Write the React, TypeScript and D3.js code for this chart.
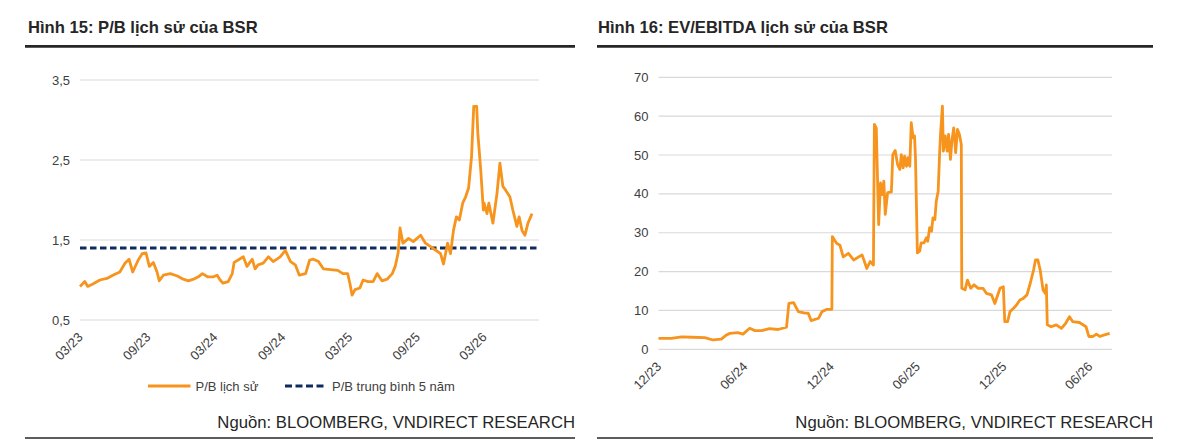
import React from "react";
import * as d3 from "d3";

// ---------- DATA ----------
const pbDates = [
  "2023-03-01","2023-03-14","2023-03-22","2023-04-05","2023-04-24","2023-05-13","2023-05-29","2023-06-17",
  "2023-07-01","2023-07-12","2023-07-22","2023-08-06","2023-08-17","2023-08-27","2023-09-05","2023-09-16",
  "2023-09-26","2023-10-02","2023-10-13","2023-11-01","2023-11-20","2023-12-06","2023-12-20","2024-01-03",
  "2024-01-16","2024-01-27","2024-02-10","2024-02-26","2024-03-07","2024-03-15","2024-03-23","2024-04-06",
  "2024-04-17","2024-04-22","2024-05-03","2024-05-17","2024-05-27","2024-06-10","2024-06-18","2024-06-26",
  "2024-07-10","2024-07-24","2024-08-06","2024-08-25","2024-09-08","2024-09-22","2024-10-05","2024-10-16",
  "2024-11-02","2024-11-13","2024-11-23","2024-12-07","2024-12-20","2025-01-09","2025-01-28","2025-02-11",
  "2025-02-24","2025-03-02","2025-03-08","2025-03-16","2025-03-29","2025-04-07","2025-04-20","2025-05-04",
  "2025-05-15","2025-05-28","2025-06-11","2025-06-25","2025-07-03","2025-07-11","2025-07-16","2025-07-24",
  "2025-08-08","2025-08-21","2025-09-10","2025-09-23","2025-10-06","2025-10-20","2025-11-03","2025-11-11",
  "2025-11-22","2025-11-30","2025-12-08","2025-12-16","2025-12-24","2026-01-02","2026-01-10","2026-01-18",
  "2026-01-26","2026-02-01","2026-02-09","2026-02-12","2026-02-20","2026-02-27","2026-03-01","2026-03-09",
  "2026-03-14","2026-03-25","2026-04-05","2026-04-13","2026-04-21","2026-04-29","2026-05-10","2026-05-18",
  "2026-05-29","2026-06-04","2026-06-12","2026-06-20","2026-06-28","2026-07-09",
];
const pbValues = [
  0.92,0.98,0.92,0.95,1.00,1.02,1.06,1.10,
  1.21,1.26,1.10,1.25,1.33,1.34,1.17,1.22,
  1.10,0.99,1.06,1.08,1.05,1.01,0.99,1.01,
  1.04,1.08,1.04,1.04,1.06,1.00,0.96,0.98,
  1.08,1.22,1.25,1.29,1.17,1.26,1.14,1.19,
  1.21,1.29,1.23,1.29,1.37,1.23,1.19,1.06,
  1.08,1.25,1.26,1.23,1.14,1.13,1.12,1.08,
  1.08,0.96,0.81,0.88,0.90,1.00,0.98,0.98,
  1.08,0.99,1.01,1.08,1.17,1.34,1.65,1.46,
  1.52,1.48,1.56,1.46,1.42,1.375,1.33,1.20,
  1.46,1.33,1.62,1.79,1.75,1.96,2.04,2.15,
  2.54,3.17,3.17,2.84,2.375,1.875,1.96,1.83,
  1.96,1.71,2.08,2.46,2.17,2.12,2.04,1.875,
  1.67,1.79,1.62,1.56,1.71,1.83,
];
const pbAverage5y = 1.4;
const pbYTicks = [0.5, 1.5, 2.5, 3.5];
const pbXTicks = ["2023-03-01","2023-09-01","2024-03-01","2024-09-01","2025-03-01","2025-09-01","2026-03-01"];
const pbDomain = ["2023-03-01", "2026-07-28"];

const evDates = [
  "2023-12-01","2023-12-28","2024-01-19","2024-02-09","2024-03-08","2024-03-25","2024-04-12","2024-04-23",
  "2024-04-30","2024-05-17","2024-05-28","2024-06-11","2024-06-22","2024-07-06","2024-07-23","2024-08-10",
  "2024-08-28","2024-09-02","2024-09-12","2024-09-22","2024-10-06","2024-10-13","2024-10-19","2024-11-04",
  "2024-11-11","2024-11-22","2024-12-02","2024-12-03","2024-12-12","2024-12-19","2024-12-26","2025-01-06",
  "2025-01-17","2025-02-04","2025-02-14","2025-02-21","2025-02-28",
  "2025-03-02","2025-03-06","2025-03-11","2025-03-15","2025-03-19","2025-03-22","2025-03-25","2025-03-30",
  "2025-04-07","2025-04-10","2025-04-15","2025-04-20","2025-04-25","2025-04-28","2025-05-02","2025-05-05",
  "2025-05-09","2025-05-12","2025-05-16","2025-05-19","2025-05-23","2025-05-26","2025-05-28","2025-06-01",
  "2025-06-06","2025-06-09","2025-06-15","2025-06-20","2025-06-23","2025-06-27","2025-07-01","2025-07-04",
  "2025-07-08","2025-07-11","2025-07-15","2025-07-18","2025-07-20","2025-07-24","2025-07-26","2025-07-30",
  "2025-08-03","2025-08-06","2025-08-10","2025-08-13","2025-08-17","2025-08-21","2025-08-25","2025-08-29",
  "2025-09-02",
  "2025-09-03","2025-09-10","2025-09-15","2025-09-22","2025-09-29","2025-10-08",
  "2025-10-18","2025-10-25","2025-11-05","2025-11-12","2025-11-17","2025-11-23","2025-11-30","2025-12-03",
  "2025-12-09","2025-12-14","2025-12-21","2025-12-28","2026-01-04","2026-01-11","2026-01-19","2026-01-26",
  "2026-02-02","2026-02-06","2026-02-11","2026-02-16","2026-02-22","2026-02-27","2026-03-01","2026-03-03",
  "2026-03-11","2026-03-22","2026-04-02","2026-04-11","2026-04-19","2026-04-26","2026-05-10","2026-05-24",
  "2026-05-30","2026-06-08","2026-06-15","2026-06-22","2026-07-02","2026-07-13",
];
const evValues = [
  2.8,2.8,3.2,3.1,3.0,2.4,2.6,3.7,
  4.1,4.3,3.9,5.4,4.8,4.8,5.3,5.1,
  5.7,11.8,12.0,9.7,9.3,9.3,7.4,8.0,
  9.7,10.3,10.3,29.0,27.3,26.8,23.8,24.7,
  23.0,24.3,20.8,22.6,21.7,
  57.9,57.0,32.1,42.8,39.8,43.3,34.7,40.3,
  40.5,50.1,51.2,47.6,46.3,50.1,46.7,49.7,
  47.1,49.3,47.1,58.3,54.4,54.9,49.3,24.8,
  25.3,27.4,27.4,28.7,27.8,31.3,30.4,33.8,
  33.4,38.1,40.7,50.1,55.3,62.6,51.0,54.9,
  51.0,55.3,48.9,53.6,57.0,50.6,56.6,55.3,
  52.7,
  15.7,15.3,17.8,15.7,16.6,15.7,
  15.7,14.4,14.0,11.8,13.6,15.7,16.1,7.1,
  7.1,9.7,10.5,11.4,12.7,13.1,14.0,17.0,
  20.4,23.0,23.0,20.4,15.3,14.4,16.6,6.3,
  5.8,6.3,5.4,6.7,8.4,7.1,6.9,5.8,
  3.3,3.3,3.9,3.3,3.7,4.1,
];
const evYTicks = [0, 10, 20, 30, 40, 50, 60, 70];
const evXTicks = ["2023-12-01","2024-06-01","2024-12-01","2025-06-01","2025-12-01","2026-06-01"];
const evDomain = ["2023-12-01", "2026-07-18"];

const titleLeft = "Hình 15: P/B lịch sử của BSR";
const titleRight = "Hình 16: EV/EBITDA lịch sử của BSR";
const sourceText = "Nguồn: BLOOMBERG, VNDIRECT RESEARCH";
const legendLabels = ["P/B lịch sử", "P/B trung bình 5 năm"];

// ---------- STYLE ----------
const FONT = "'Liberation Sans', Arial, Helvetica, sans-serif";
const ORANGE = "#F7941D";
const NAVY = "#0F2A5C";
const GRID = "#D9D9D9";
const TEXT = "#404040";
const DARK = "#262626";

const parse = d3.utcParse("%Y-%m-%d");
const fmt = d3.utcFormat("%m/%y");

type PanelProps = {
  x0: number; x1: number; titleX: number;
  plotLeft: number; plotRight: number; plotTop: number; plotBottom: number;
  yDomain: [number, number];
  yTicks: number[];
  yFormat: (v: number) => string;
  dates: string[]; values: number[];
  xTicks: string[]; domain: string[];
  title: string;
  avg?: number;
  legend?: boolean;
};

function Panel(p: PanelProps) {
  const x = d3.scaleUtc()
    .domain([parse(p.domain[0])!, parse(p.domain[1])!])
    .range([p.plotLeft, p.plotRight]);
  const y = d3.scaleLinear().domain(p.yDomain).range([p.plotBottom, p.plotTop]);
  const pts = p.dates.map((d, i) => [parse(d)!, p.values[i]] as [Date, number]);
  const line = d3.line<[Date, number]>().x(d => x(d[0])).y(d => y(d[1])).curve(d3.curveLinear);

  return (
    <g>
      <text x={p.titleX} y={33} fontFamily={FONT} fontWeight="bold" fontSize={16.6} fill={DARK}>{p.title}</text>
      <line x1={p.x0} x2={p.x1} y1={46.3} y2={46.3} stroke={DARK} strokeWidth={2.8} />
      {p.yTicks.map(t => (
        <g key={t}>
          <line x1={p.plotLeft} x2={p.plotRight} y1={y(t)} y2={y(t)} stroke={GRID} strokeWidth={1.2} />
          <text x={p.plotLeft - 10} y={y(t) + 4.5} textAnchor="end" fontFamily={FONT} fontSize={13} fill={TEXT}>{p.yFormat(t)}</text>
        </g>
      ))}
      {p.xTicks.map(t => {
        const tx = x(parse(t)!);
        return (
          <text key={t} transform={`translate(${tx + 3.5},${p.plotBottom + 18}) rotate(-45)`} textAnchor="end"
            fontFamily={FONT} fontSize={13} fill={TEXT}>{fmt(parse(t)!)}</text>
        );
      })}
      {p.avg !== undefined && (
        <line x1={p.plotLeft} x2={p.plotRight} y1={y(p.avg)} y2={y(p.avg)} stroke={NAVY} strokeWidth={3} strokeDasharray="6.5 3.5" />
      )}
      <path d={line(pts) || ""} fill="none" stroke={ORANGE} strokeWidth={2.8} strokeLinejoin="round" />
      {p.legend && (
        <g fontFamily={FONT} fontSize={13} fill={TEXT}>
          <line x1={148} x2={190.5} y1={386} y2={386} stroke={ORANGE} strokeWidth={3} />
          <text x={195.5} y={390.5}>{legendLabels[0]}</text>
          <line x1={285} x2={327} y1={386} y2={386} stroke={NAVY} strokeWidth={3} strokeDasharray="7 3.5" />
          <text x={332} y={390.5}>{legendLabels[1]}</text>
        </g>
      )}
      <text x={p.x1} y={427.5} textAnchor="end" fontFamily={FONT} fontSize={16.7} fill={DARK}>{sourceText}</text>
      <line x1={p.x0} x2={p.x1} y1={438} y2={438} stroke={DARK} strokeWidth={1.5} />
    </g>
  );
}

export default function App() {
  const commaFmt = (v: number) => v.toFixed(1).replace(".", ",");
  return (
    <div style={{ position: "absolute", left: 0, top: 0, background: "#fff" }}>
      <svg width={1180} height={446} viewBox="0 0 1180 446">
        <rect width={1180} height={446} fill="#fff" />
        <Panel x0={25} x1={575} titleX={28} plotLeft={80} plotRight={539} plotTop={80} plotBottom={320}
          yDomain={[0.5, 3.5]} yTicks={pbYTicks} yFormat={commaFmt}
          dates={pbDates} values={pbValues} xTicks={pbXTicks} domain={pbDomain}
          title={titleLeft} avg={pbAverage5y} legend />
        <Panel x0={597} x1={1153} titleX={598} plotLeft={658.5} plotRight={1112} plotTop={77.3} plotBottom={349.3}
          yDomain={[0, 70]} yTicks={evYTicks} yFormat={(v) => String(v)}
          dates={evDates} values={evValues} xTicks={evXTicks} domain={evDomain}
          title={titleRight} />
      </svg>
    </div>
  );
}
